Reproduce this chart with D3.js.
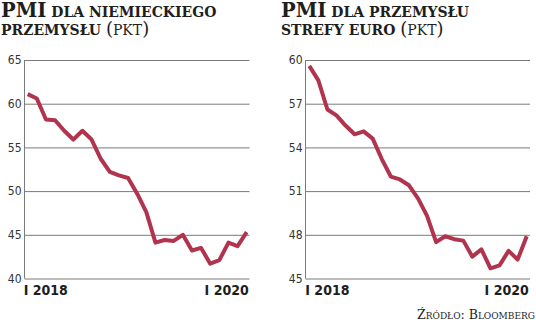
<!DOCTYPE html>
<html>
<head>
<meta charset="utf-8">
<script src="https://cdn.jsdelivr.net/npm/d3@7"></script>
<style>
  html, body { margin: 0; padding: 0; background: #fff; }
  svg { display: block; }
  .title { font-family: "DejaVu Serif", serif; fill: #1e1e1e; }
  .ytick text { font-family: "DejaVu Sans Condensed", "DejaVu Sans", sans-serif; font-stretch: condensed; font-size: 12px; fill: #333; }
  .xtick text { font-family: "DejaVu Sans Condensed", "DejaVu Sans", sans-serif; font-stretch: condensed; font-weight: bold; font-size: 14px; fill: #1e1e1e; }
</style>
</head>
<body>
<svg id="chart" width="536" height="323"></svg>
<script>
// Months Jan 2018 – Jan 2020
const months = [
  "2018-01","2018-02","2018-03","2018-04","2018-05","2018-06",
  "2018-07","2018-08","2018-09","2018-10","2018-11","2018-12",
  "2019-01","2019-02","2019-03","2019-04","2019-05","2019-06",
  "2019-07","2019-08","2019-09","2019-10","2019-11","2019-12",
  "2020-01"
];

// Manufacturing PMI, Germany
const pmiGermany = [61.1, 60.6, 58.2, 58.1, 56.9, 55.9, 56.9, 55.9, 53.7, 52.2, 51.8, 51.5,
                    49.7, 47.6, 44.1, 44.4, 44.3, 45.0, 43.2, 43.5, 41.7, 42.1, 44.1, 43.7,
                    45.3];
// Manufacturing PMI, euro area
const pmiEuro = [59.6, 58.6, 56.6, 56.2, 55.5, 54.9, 55.1, 54.6, 53.2, 52.0, 51.8, 51.4,
                 50.5, 49.3, 47.5, 47.9, 47.7, 47.6, 46.5, 47.0, 45.7, 45.9, 46.9, 46.3,
                 47.9];

const ticksGermany = [40, 45, 50, 55, 60, 65];
const ticksEuro = [45, 48, 51, 54, 57, 60];
const xTickMonths = ["2018-01", "2020-01"];
const xTickLabels = ["I 2018", "I 2020"];

const titleGermany = [
  [{t: "PMI", big: true}, {t: " DLA NIEMIECKIEGO"}],
  [{t: "PRZEMYSŁU"}, {t: " (PKT)", light: true}]
];
const titleEuro = [
  [{t: "PMI", big: true}, {t: " DLA PRZEMYSŁU"}],
  [{t: "STREFY EURO"}, {t: " (PKT)", light: true}]
];
const sourceText = "Źródło: Bloomberg";

const lineColor = "#b1344f";
const gridColor = "#7a7a7a";

const svg = d3.select("#chart");

function drawTitle(g, lines, x) {
  lines.forEach((parts, i) => {
    const text = g.append("text").attr("class", "title")
      .attr("x", x).attr("y", 17 + i * 18);
    parts.forEach(p => {
      if (p.light) {
        // parenthesised unit, regular weight, larger brackets
        text.append("tspan").attr("font-size", 14).attr("font-weight", "bold").text(" ");
        text.append("tspan").attr("font-size", 18).attr("font-weight", "normal").text("(");
        text.append("tspan").attr("font-size", 14).attr("font-weight", "normal").text("PKT");
        text.append("tspan").attr("font-size", 18).attr("font-weight", "normal").text(")");
      } else {
        text.append("tspan")
          .attr("font-size", p.big ? 19.5 : 14)
          .attr("font-weight", "bold")
          .text(p.t);
      }
    });
  });
}

function drawPanel(opts) {
  const g = svg.append("g");
  const x = d3.scalePoint().domain(months).range([opts.x0, opts.x1]);
  const y = d3.scaleLinear().domain(d3.extent(opts.ticks)).range([278.5, 60]);

  // horizontal grid with labels
  const yAxis = d3.axisLeft(y).tickValues(opts.ticks).tickSize(-(opts.gridRight - opts.axisX))
    .tickPadding(4).tickFormat(d3.format("d"));
  const ya = g.append("g").attr("class", "ytick")
    .attr("transform", `translate(${opts.axisX},0)`).call(yAxis);
  ya.select(".domain").attr("stroke", gridColor).attr("stroke-width", 1)
    .attr("d", `M0,${y.range()[1]}V${y.range()[0]}`);
  ya.selectAll(".tick line").attr("stroke", gridColor).attr("stroke-width", 1);
  ya.selectAll(".tick text").attr("x", -3);

  // x labels at first and last month
  const xa = g.append("g").attr("class", "xtick");
  xTickMonths.forEach((m, i) => {
    const last = i === xTickMonths.length - 1;
    xa.append("text")
      .attr("x", x(m) + (last ? 2 : -4))
      .attr("y", 295)
      .attr("text-anchor", last ? "end" : "start")
      .text(xTickLabels[i]);
  });

  // series line
  const line = d3.line().x((d, i) => x(months[i])).y(d => y(d));
  g.append("path").datum(opts.values)
    .attr("d", line)
    .attr("fill", "none")
    .attr("stroke", lineColor)
    .attr("stroke-width", 4)
    .attr("stroke-linejoin", "round")
    .attr("stroke-linecap", "butt");

  drawTitle(g, opts.title, opts.titleX);
}

drawPanel({ values: pmiGermany, ticks: ticksGermany, x0: 27.7, x1: 246.7,
            axisX: 24.5, gridRight: 249.5, title: titleGermany, titleX: 1 });
drawPanel({ values: pmiEuro, ticks: ticksEuro, x0: 309.3, x1: 526.7,
            axisX: 305.5, gridRight: 530, title: titleEuro, titleX: 281 });

// source note
svg.append("text").attr("class", "title")
  .attr("x", 535).attr("y", 319).attr("text-anchor", "end")
  .attr("font-size", 12.5).attr("font-weight", "normal")
  .attr("font-variant", "small-caps")
  .attr("fill", "#222")
  .text(sourceText);
</script>
</body>
</html>
